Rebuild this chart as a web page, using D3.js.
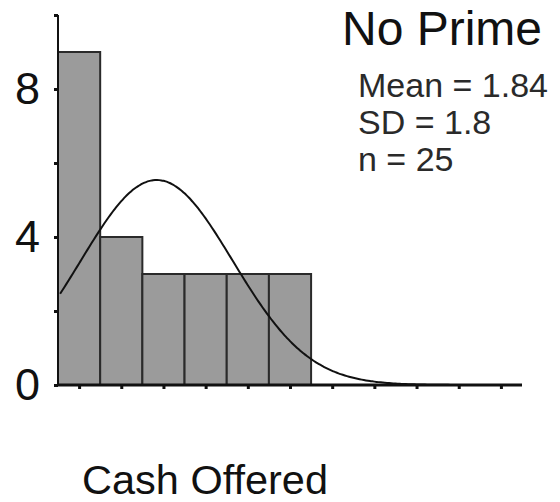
<!DOCTYPE html>
<html><head><meta charset="utf-8">
<script src="https://cdn.jsdelivr.net/npm/d3@7"></script>
<style>html,body{margin:0;padding:0;background:#fff;}svg{display:block;}</style>
</head><body>
<svg id="c" width="560" height="502"></svg>
<script>
// Data
const binCenters = [0, 1, 2, 3, 4, 5];
const counts = [9, 4, 3, 3, 3, 3];
const xTicks = [0,1,2,3,4,5,6,7,8,9,10];
const yTicks = [0,2,4,6,8,10];
const yLabels = [0,4,8];
const meanVal = 1.84, sdVal = 1.8, nVal = 25;
const title = "No Prime";
const statLines = ["Mean = 1.84", "SD = 1.8", "n = 25"];
const xTitle = "Cash Offered";

const svg = d3.select("#c");
const font = "'Liberation Sans', Arial, Helvetica, sans-serif";
const x = d3.scaleLinear().domain([-0.5, 10.5]).range([58, 522]);
const y = d3.scaleLinear().domain([0, 10]).range([385, 15]);

// bars
svg.append("g").selectAll("rect").data(binCenters).join("rect")
  .attr("x", d => x(d - 0.5))
  .attr("y", (d,i) => y(counts[i]))
  .attr("width", d => x(d + 0.5) - x(d - 0.5))
  .attr("height", (d,i) => y(0) - y(counts[i]))
  .attr("fill", "#9b9b9b")
  .attr("stroke", "#2a2a2a")
  .attr("stroke-width", 2);

// normal curve
const curvePts = d3.range(-0.45, 10.5, 0.05).map(v => [v, nVal / (sdVal * Math.sqrt(2*Math.PI)) * Math.exp(-((v-meanVal)**2)/(2*sdVal*sdVal))]);
svg.append("path").datum(curvePts)
  .attr("d", d3.line().x(d => x(d[0])).y(d => y(d[1])).curve(d3.curveBasis))
  .attr("fill", "none").attr("stroke", "#111").attr("stroke-width", 2);

// axes
const yAxis = svg.append("g").attr("transform", "translate(58,0)")
  .call(d3.axisLeft(y).tickValues(yTicks).tickSize(4).tickPadding(14)
    .tickFormat(d => yLabels.includes(d) ? d : ""));
yAxis.select(".domain").attr("d", `M0,${y(10)}V${y(0)}`).attr("stroke", "#111").attr("stroke-width", 2);
yAxis.selectAll(".tick line").attr("stroke", "#111").attr("stroke-width", 3);
yAxis.selectAll(".tick text").attr("font-family", font).attr("font-size", 45).attr("fill", "#111").attr("dy", "0.32em");

const xAxis = svg.append("g").attr("transform", `translate(0,${y(0)})`)
  .call(d3.axisBottom(x).tickValues(xTicks).tickSize(4).tickFormat(""));
xAxis.select(".domain").attr("d", `M${x(-0.5)},0H${x(10.5)}`).attr("stroke", "#111").attr("stroke-width", 3);
xAxis.selectAll(".tick line").attr("stroke", "#111").attr("stroke-width", 3);

// texts
svg.append("text").attr("x", 342).attr("y", 45).attr("font-family", font).attr("font-size", 48).attr("fill", "#111").text(title);
svg.append("g").selectAll("text").data(statLines).join("text")
  .attr("x", 358).attr("y", (d,i) => 97 + i*37)
  .attr("font-family", font).attr("font-size", 34).attr("fill", "#2a2a2a").text(d => d);
svg.append("text").attr("x", 82).attr("y", 494).attr("font-family", font).attr("font-size", 40)
  .attr("textLength", 246).attr("lengthAdjust", "spacingAndGlyphs").attr("fill", "#111").text(xTitle);
</script>
</body></html>
